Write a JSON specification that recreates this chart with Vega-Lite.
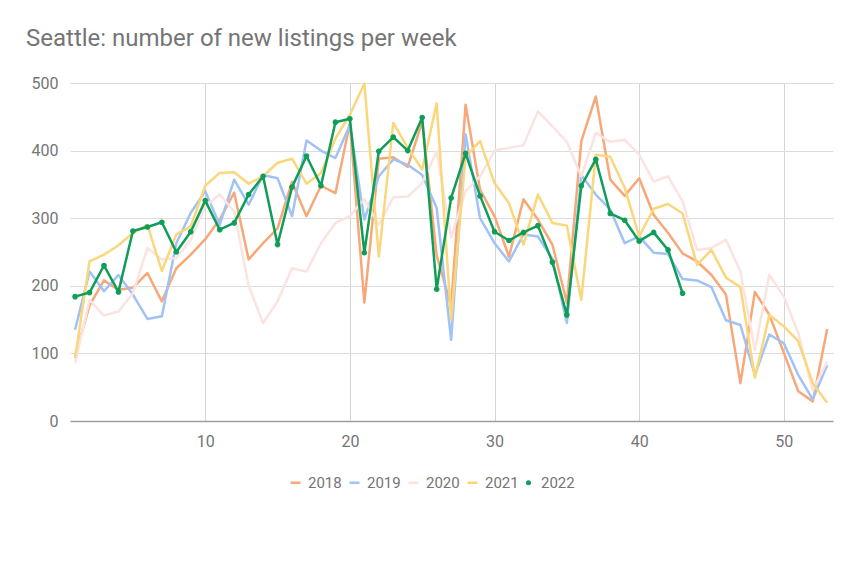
{
  "$schema": "https://vega.github.io/schema/vega-lite/v6.json",
  "width": 763,
  "height": 338,
  "autosize": "none",
  "padding": {"left": 70, "top": 83, "right": 31, "bottom": 155},
  "background": "white",
  "title": {
    "text": "Seattle: number of new listings per week",
    "anchor": "start",
    "frame": "group",
    "dx": -44,
    "offset": 5,
    "baseline": "alphabetic",
    "font": "Roboto",
    "fontSize": 24,
    "fontWeight": "normal",
    "color": "#757575"
  },
  "config": {
    "view": {"stroke": null},
    "font": "Roboto"
  },
  "data": {
    "values": [
      {"week":1,"year":"2018","value":95},{"week":2,"year":"2018","value":171},{"week":3,"year":"2018","value":208},{"week":4,"year":"2018","value":194},{"week":5,"year":"2018","value":197},{"week":6,"year":"2018","value":219},{"week":7,"year":"2018","value":177},{"week":8,"year":"2018","value":226},{"week":9,"year":"2018","value":246},{"week":10,"year":"2018","value":269},
      {"week":11,"year":"2018","value":298},{"week":12,"year":"2018","value":338},{"week":13,"year":"2018","value":239},{"week":14,"year":"2018","value":263},{"week":15,"year":"2018","value":285},{"week":16,"year":"2018","value":354},{"week":17,"year":"2018","value":303},{"week":18,"year":"2018","value":348},{"week":19,"year":"2018","value":337},{"week":20,"year":"2018","value":441},
      {"week":21,"year":"2018","value":175},{"week":22,"year":"2018","value":388},{"week":23,"year":"2018","value":390},{"week":24,"year":"2018","value":376},{"week":25,"year":"2018","value":443},{"week":26,"year":"2018","value":245},{"week":27,"year":"2018","value":170},{"week":28,"year":"2018","value":468},{"week":29,"year":"2018","value":342},{"week":30,"year":"2018","value":303},
      {"week":31,"year":"2018","value":243},{"week":32,"year":"2018","value":328},{"week":33,"year":"2018","value":298},{"week":34,"year":"2018","value":261},{"week":35,"year":"2018","value":175},{"week":36,"year":"2018","value":414},{"week":37,"year":"2018","value":480},{"week":38,"year":"2018","value":357},{"week":39,"year":"2018","value":333},{"week":40,"year":"2018","value":359},
      {"week":41,"year":"2018","value":305},{"week":42,"year":"2018","value":278},{"week":43,"year":"2018","value":248},{"week":44,"year":"2018","value":236},{"week":45,"year":"2018","value":216},{"week":46,"year":"2018","value":187},{"week":47,"year":"2018","value":56},{"week":48,"year":"2018","value":191},{"week":49,"year":"2018","value":157},{"week":50,"year":"2018","value":101},
      {"week":51,"year":"2018","value":44},{"week":52,"year":"2018","value":29},{"week":53,"year":"2018","value":136},

      {"week":1,"year":"2019","value":135},{"week":2,"year":"2019","value":221},{"week":3,"year":"2019","value":192},{"week":4,"year":"2019","value":216},{"week":5,"year":"2019","value":187},{"week":6,"year":"2019","value":151},{"week":7,"year":"2019","value":155},{"week":8,"year":"2019","value":263},{"week":9,"year":"2019","value":308},{"week":10,"year":"2019","value":340},
      {"week":11,"year":"2019","value":290},{"week":12,"year":"2019","value":357},{"week":13,"year":"2019","value":320},{"week":14,"year":"2019","value":364},{"week":15,"year":"2019","value":359},{"week":16,"year":"2019","value":303},{"week":17,"year":"2019","value":415},{"week":18,"year":"2019","value":400},{"week":19,"year":"2019","value":389},{"week":20,"year":"2019","value":438},
      {"week":21,"year":"2019","value":298},{"week":22,"year":"2019","value":362},{"week":23,"year":"2019","value":387},{"week":24,"year":"2019","value":379},{"week":25,"year":"2019","value":364},{"week":26,"year":"2019","value":315},{"week":27,"year":"2019","value":120},{"week":28,"year":"2019","value":424},{"week":29,"year":"2019","value":300},{"week":30,"year":"2019","value":263},
      {"week":31,"year":"2019","value":236},{"week":32,"year":"2019","value":276},{"week":33,"year":"2019","value":273},{"week":34,"year":"2019","value":240},{"week":35,"year":"2019","value":145},{"week":36,"year":"2019","value":364},{"week":37,"year":"2019","value":335},{"week":38,"year":"2019","value":313},{"week":39,"year":"2019","value":263},{"week":40,"year":"2019","value":273},
      {"week":41,"year":"2019","value":249},{"week":42,"year":"2019","value":247},{"week":43,"year":"2019","value":210},{"week":44,"year":"2019","value":208},{"week":45,"year":"2019","value":198},{"week":46,"year":"2019","value":149},{"week":47,"year":"2019","value":142},{"week":48,"year":"2019","value":68},{"week":49,"year":"2019","value":128},{"week":50,"year":"2019","value":115},
      {"week":51,"year":"2019","value":68},{"week":52,"year":"2019","value":32},{"week":53,"year":"2019","value":83},

      {"week":1,"year":"2020","value":86},{"week":2,"year":"2020","value":179},{"week":3,"year":"2020","value":156},{"week":4,"year":"2020","value":162},{"week":5,"year":"2020","value":189},{"week":6,"year":"2020","value":256},{"week":7,"year":"2020","value":239},{"week":8,"year":"2020","value":241},{"week":9,"year":"2020","value":268},{"week":10,"year":"2020","value":318},
      {"week":11,"year":"2020","value":335},{"week":12,"year":"2020","value":310},{"week":13,"year":"2020","value":200},{"week":14,"year":"2020","value":145},{"week":15,"year":"2020","value":177},{"week":16,"year":"2020","value":226},{"week":17,"year":"2020","value":221},{"week":18,"year":"2020","value":263},{"week":19,"year":"2020","value":293},{"week":20,"year":"2020","value":303},
      {"week":21,"year":"2020","value":328},{"week":22,"year":"2020","value":290},{"week":23,"year":"2020","value":331},{"week":24,"year":"2020","value":332},{"week":25,"year":"2020","value":352},{"week":26,"year":"2020","value":399},{"week":27,"year":"2020","value":272},{"week":28,"year":"2020","value":340},{"week":29,"year":"2020","value":362},{"week":30,"year":"2020","value":400},
      {"week":31,"year":"2020","value":404},{"week":32,"year":"2020","value":408},{"week":33,"year":"2020","value":458},{"week":34,"year":"2020","value":436},{"week":35,"year":"2020","value":413},{"week":36,"year":"2020","value":362},{"week":37,"year":"2020","value":426},{"week":38,"year":"2020","value":413},{"week":39,"year":"2020","value":416},{"week":40,"year":"2020","value":394},
      {"week":41,"year":"2020","value":354},{"week":42,"year":"2020","value":362},{"week":43,"year":"2020","value":325},{"week":44,"year":"2020","value":253},{"week":45,"year":"2020","value":256},{"week":46,"year":"2020","value":268},{"week":47,"year":"2020","value":221},{"week":48,"year":"2020","value":105},{"week":49,"year":"2020","value":216},{"week":50,"year":"2020","value":184},
      {"week":51,"year":"2020","value":130},{"week":52,"year":"2020","value":45},{"week":53,"year":"2020","value":88},

      {"week":1,"year":"2021","value":93},{"week":2,"year":"2021","value":236},{"week":3,"year":"2021","value":246},{"week":4,"year":"2021","value":260},{"week":5,"year":"2021","value":278},{"week":6,"year":"2021","value":290},{"week":7,"year":"2021","value":222},{"week":8,"year":"2021","value":276},{"week":9,"year":"2021","value":288},{"week":10,"year":"2021","value":348},
      {"week":11,"year":"2021","value":367},{"week":12,"year":"2021","value":368},{"week":13,"year":"2021","value":351},{"week":14,"year":"2021","value":362},{"week":15,"year":"2021","value":382},{"week":16,"year":"2021","value":388},{"week":17,"year":"2021","value":351},{"week":18,"year":"2021","value":367},{"week":19,"year":"2021","value":418},{"week":20,"year":"2021","value":453},
      {"week":21,"year":"2021","value":499},{"week":22,"year":"2021","value":243},{"week":23,"year":"2021","value":441},{"week":24,"year":"2021","value":404},{"week":25,"year":"2021","value":372},{"week":26,"year":"2021","value":470},{"week":27,"year":"2021","value":150},{"week":28,"year":"2021","value":391},{"week":29,"year":"2021","value":414},{"week":30,"year":"2021","value":352},
      {"week":31,"year":"2021","value":322},{"week":32,"year":"2021","value":261},{"week":33,"year":"2021","value":335},{"week":34,"year":"2021","value":293},{"week":35,"year":"2021","value":289},{"week":36,"year":"2021","value":179},{"week":37,"year":"2021","value":394},{"week":38,"year":"2021","value":391},{"week":39,"year":"2021","value":345},{"week":40,"year":"2021","value":273},
      {"week":41,"year":"2021","value":314},{"week":42,"year":"2021","value":321},{"week":43,"year":"2021","value":307},{"week":44,"year":"2021","value":231},{"week":45,"year":"2021","value":253},{"week":46,"year":"2021","value":212},{"week":47,"year":"2021","value":198},{"week":48,"year":"2021","value":64},{"week":49,"year":"2021","value":157},{"week":50,"year":"2021","value":140},
      {"week":51,"year":"2021","value":118},{"week":52,"year":"2021","value":56},{"week":53,"year":"2021","value":27},

      {"week":1,"year":"2022","value":184},{"week":2,"year":"2022","value":190},{"week":3,"year":"2022","value":230},{"week":4,"year":"2022","value":191},{"week":5,"year":"2022","value":281},{"week":6,"year":"2022","value":287},{"week":7,"year":"2022","value":294},{"week":8,"year":"2022","value":250},{"week":9,"year":"2022","value":280},{"week":10,"year":"2022","value":326},
      {"week":11,"year":"2022","value":283},{"week":12,"year":"2022","value":293},{"week":13,"year":"2022","value":335},{"week":14,"year":"2022","value":362},{"week":15,"year":"2022","value":261},{"week":16,"year":"2022","value":346},{"week":17,"year":"2022","value":392},{"week":18,"year":"2022","value":348},{"week":19,"year":"2022","value":442},{"week":20,"year":"2022","value":447},
      {"week":21,"year":"2022","value":249},{"week":22,"year":"2022","value":399},{"week":23,"year":"2022","value":420},{"week":24,"year":"2022","value":400},{"week":25,"year":"2022","value":449},{"week":26,"year":"2022","value":195},{"week":27,"year":"2022","value":330},{"week":28,"year":"2022","value":396},{"week":29,"year":"2022","value":333},{"week":30,"year":"2022","value":280},
      {"week":31,"year":"2022","value":267},{"week":32,"year":"2022","value":279},{"week":33,"year":"2022","value":289},{"week":34,"year":"2022","value":235},{"week":35,"year":"2022","value":157},{"week":36,"year":"2022","value":348},{"week":37,"year":"2022","value":387},{"week":38,"year":"2022","value":307},{"week":39,"year":"2022","value":297},{"week":40,"year":"2022","value":266},
      {"week":41,"year":"2022","value":279},{"week":42,"year":"2022","value":253},{"week":43,"year":"2022","value":189}
    ]
  },
  "encoding": {
    "x": {
      "field": "week",
      "type": "quantitative",
      "scale": {"domain": [0.65, 53.4], "nice": false, "zero": false},
      "axis": {
        "title": null,
        "values": [10, 20, 30, 40, 50],
        "ticks": false,
        "grid": true,
        "gridColor": "#d6d6d6",
        "gridWidth": 1,
        "domain": true,
        "domainColor": "#9e9e9e",
        "domainWidth": 1.5,
        "labelFont": "Roboto",
        "labelFontSize": 16,
        "labelColor": "#757575",
        "labelPadding": 12
      }
    },
    "y": {
      "field": "value",
      "type": "quantitative",
      "scale": {"domain": [0, 500], "nice": false},
      "axis": {
        "title": null,
        "values": [0, 100, 200, 300, 400, 500],
        "ticks": false,
        "domain": false,
        "grid": true,
        "gridColor": "#dcdcdc",
        "gridWidth": 1,
        "labelFont": "Roboto",
        "labelFontSize": 16,
        "labelColor": "#757575",
        "labelPadding": 12
      }
    },
    "color": {
      "field": "year",
      "type": "nominal",
      "scale": {
        "domain": ["2018", "2019", "2020", "2021", "2022"],
        "range": ["#f8a878", "#a1c2f6", "#fbe3e1", "#fbd77c", "#0f9d58"]
      },
      "legend": {
        "title": null,
        "orient": "none",
        "direction": "horizontal",
        "columns": 5,
        "legendX": 218,
        "legendY": 392,
        "symbolSize": 100,
        "symbolStrokeWidth": 2.5,
        "labelFont": "Roboto",
        "labelFontSize": 15,
        "labelColor": "#757575",
        "labelOffset": 5,
        "columnPadding": 2
      }
    }
  },
  "layer": [
    {
      "mark": {"type": "line", "strokeWidth": 2.5, "strokeJoin": "round"},
      "encoding": {"detail": {"field": "year"}}
    },
    {
      "transform": [{"filter": "datum.year == '2022'"}],
      "mark": {"type": "point", "filled": false, "strokeWidth": 2.5, "opacity": 1},
      "encoding": {
        "shape": {
          "field": "year",
          "type": "nominal",
          "scale": {
            "domain": ["2018", "2019", "2020", "2021", "2022"],
            "range": ["stroke", "stroke", "stroke", "stroke", "M-0.25,0A0.25,0.25 0 1,0 0.25,0A0.25,0.25 0 1,0 -0.25,0Z"]
          },
          "legend": {
            "title": null,
            "orient": "none",
            "direction": "horizontal",
            "columns": 5,
            "legendX": 218,
            "legendY": 392,
            "symbolSize": 100,
            "symbolStrokeWidth": 2.5,
            "labelFont": "Roboto",
            "labelFontSize": 15,
            "labelColor": "#757575",
            "labelOffset": 5,
            "columnPadding": 2
          }
        },
        "size": {"value": 164}
      }
    }
  ]
}
